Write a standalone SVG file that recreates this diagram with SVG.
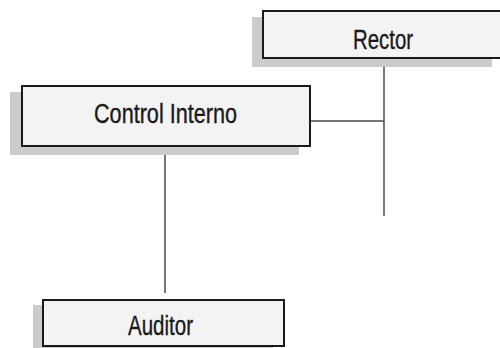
<svg xmlns="http://www.w3.org/2000/svg" width="500" height="348" viewBox="0 0 500 348">
<style>
.shadow{fill:#cbcbcb}
.box{fill:#f3f3f3;stroke:#1a1a1a;stroke-width:2}
.lbl{font-family:"Liberation Sans",Arial,sans-serif;font-size:27px;fill:#1a1a1a;stroke:#1a1a1a;stroke-width:0.35;text-anchor:middle}
.conn{stroke:#4a4a4a;stroke-width:1.5;fill:none}
</style>
<rect width="500" height="348" fill="#ffffff"/>
<g id="connectors">
<line class="conn" x1="384" y1="58" x2="384" y2="216"/>
<line class="conn" x1="310" y1="121" x2="384" y2="121"/>
<line class="conn" x1="165" y1="146" x2="165" y2="293"/>
</g>
<g id="rector">
<rect class="shadow" x="252" y="17" width="240" height="50"/>
<rect class="box" x="263" y="11" width="240" height="47"/>
<text class="lbl" x="383" y="49" textLength="60" lengthAdjust="spacingAndGlyphs">Rector</text>
</g>
<g id="control-interno">
<rect class="shadow" x="10" y="92" width="289" height="63"/>
<rect class="box" x="22" y="86" width="288" height="60"/>
<text class="lbl" x="165.5" y="123" textLength="143" lengthAdjust="spacingAndGlyphs">Control Interno</text>
</g>
<g id="auditor">
<rect class="shadow" x="33" y="305" width="240" height="50"/>
<rect class="box" x="43" y="300" width="241" height="46"/>
<text class="lbl" x="160.5" y="335" textLength="65" lengthAdjust="spacingAndGlyphs">Auditor</text>
</g>
</svg>
